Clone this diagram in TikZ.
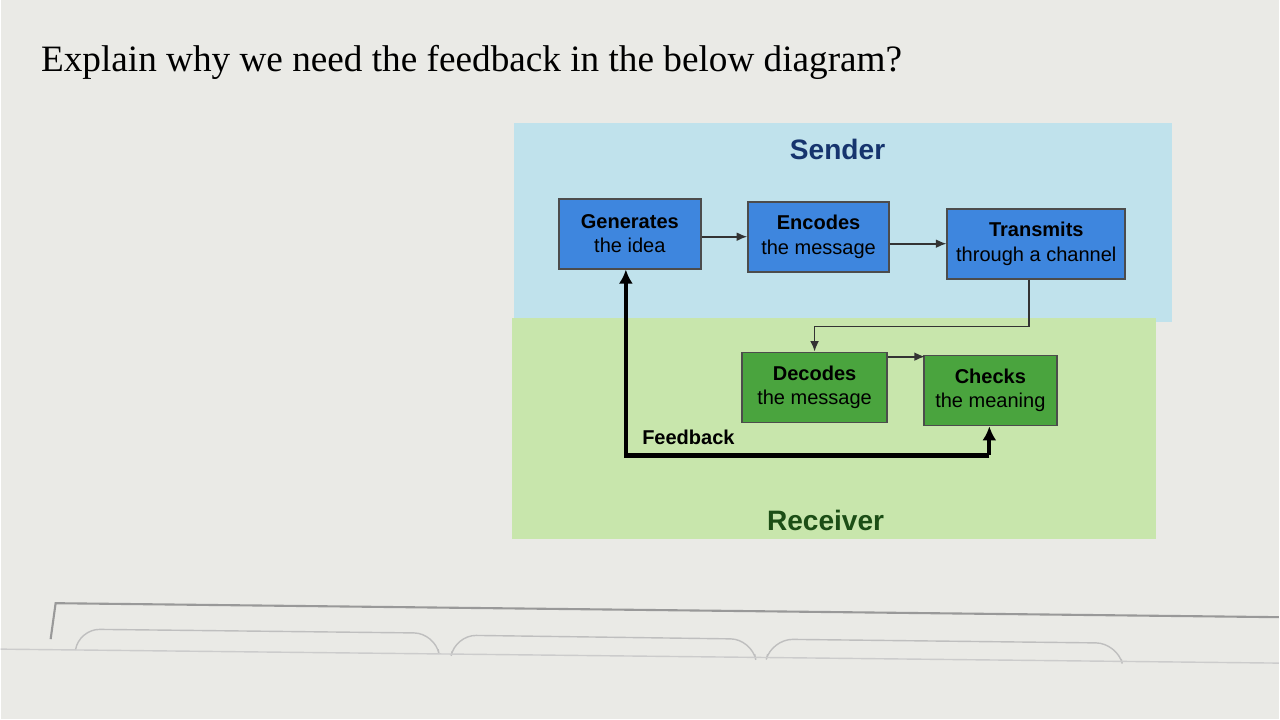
\documentclass[tikz,border=0pt]{standalone}
\usepackage{fontspec}
\setmainfont{Liberation Sans}
\newfontfamily\titlefont{Liberation Serif}
\usetikzlibrary{arrows.meta}
\definecolor{screen}{RGB}{234,234,230}
\definecolor{skyband}{RGB}{192,226,236}
\definecolor{grassband}{RGB}{200,230,172}
\definecolor{boxblue}{RGB}{62,134,222}
\definecolor{boxgreen}{RGB}{74,164,62}
\definecolor{darkblue}{RGB}{22,52,110}
\definecolor{darkgreen}{RGB}{28,78,22}
\begin{document}
\begin{tikzpicture}[x=0.01cm,y=-0.01cm,
  step/.style={draw=black!70,line width=0.5pt,minimum width=#1,minimum height=0.7cm,inner sep=1pt,align=center,font=\fontsize{5.7pt}{7pt}\selectfont},
  sendbox/.style={step=#1,fill=boxblue},
  recvbox/.style={step=#1,fill=boxgreen},
  link/.style={draw=black!80,line width=0.5pt,-{Latex[length=3pt,width=2.5pt]}},
  loop/.style={draw=black,line width=1.2pt,-{Latex[length=4pt,width=4pt]}}]
\fill[screen] (0,0) rectangle (1280,720);
\node[anchor=west,font=\titlefont\fontsize{10.6pt}{13pt}\selectfont] (title) at (28,62) {Explain why we need the feedback in the below diagram?};
% the two bands
\fill[skyband] (514,123) rectangle (1173,322);
\fill[grassband] (512,318) rectangle (1157,540);
\node[font=\bfseries\fontsize{8pt}{10pt}\selectfont,text=darkblue] (sender) at (838,150) {Sender};
\node[font=\bfseries\fontsize{8pt}{10pt}\selectfont,text=darkgreen] (receiver) at (826,521) {Receiver};
% steps
\node[sendbox=1.42cm] (idea) at (630,234) {\textbf{Generates}\\the idea};
\node[sendbox=1.41cm] (encode) at (819,237) {\textbf{Encodes}\\the message};
\node[sendbox=1.78cm] (send) at (1037,244) {\textbf{Transmits}\\through a channel};
\node[recvbox=1.45cm] (decode) at (815,388) {\textbf{Decodes}\\the message};
\node[recvbox=1.33cm] (check) at (991,391) {\textbf{Checks}\\the meaning};
\coordinate (bend) at (1030,327);
\coordinate (loopend) at (990,456);
\coordinate (loopcorner) at (626,456);
% connectors
\draw[link] (idea.east |- encode) -- (encode.west);
\draw[link] (encode.east |- send) -- (send.west);
\draw[link] (send.south -| bend) -- (bend) -| (decode.north);
\draw[link] (decode.north east) ++(0,5) -- ++(37,0);
\draw[loop] (loopend) -- (check.south -| loopend);
\draw[loop] (loopend) -- (loopcorner) -- (idea.south -| loopcorner);
\node[anchor=west,font=\bfseries\fontsize{5.7pt}{7pt}\selectfont] (fb) at (630,438) {Feedback};
% screen below
\draw[black!40,line width=0.6pt] (50,640) -- (55,604) -- (1280,618);
\draw[black!25,rounded corners=6pt] (75,650) -- (78,630) -- (435,634) -- (438,650);
\draw[black!25,rounded corners=6pt] (452,652) -- (455,636) -- (752,640) -- (755,655);
\draw[black!25,rounded corners=6pt] (768,655) -- (772,640) -- (1118,644) -- (1122,660);
\draw[black!20] (0,650) -- (1280,664);
\end{tikzpicture}
\end{document}
